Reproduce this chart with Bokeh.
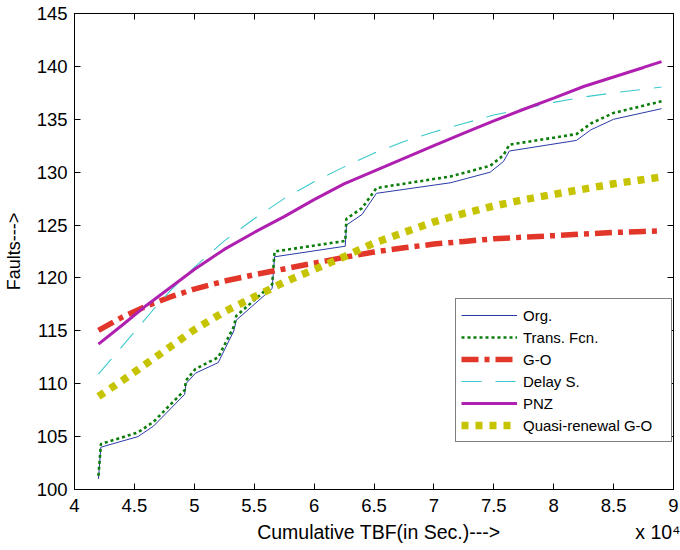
from bokeh.plotting import figure
from bokeh.models import LinearAxis, FixedTicker, Legend, LegendItem, Range1d
from bokeh.embed import file_html
from bokeh.resources import INLINE

# ---- data (x in seconds, y = cumulative faults) ----
org_x = [42000, 42200, 45300, 46600, 49200, 49300, 50100, 52000, 53300, 53500, 56500, 56700,
         62600, 62700, 64000, 65200, 71400, 74700, 75800, 76300, 81900, 83100, 85000, 89000]
org_y = [101, 104, 105, 106, 109, 110, 111, 112, 115, 116, 119, 122,
         123, 125, 126, 128, 129, 130, 131, 132, 133, 134, 135, 136]

trans_x = [42000, 42200, 45300, 46600, 49200, 49300, 50100, 52000, 53300, 53500, 56500, 56700,
           62600, 62700, 64000, 65200, 71400, 74700, 75800, 76300, 81900, 83100, 85000, 89000]
trans_y = [101.3, 104.3, 105.4, 106.4, 109.4, 110.3, 111.4, 112.5, 115.4, 116.4, 119.4, 122.5,
           123.5, 125.6, 126.6, 128.5, 129.6, 130.6, 131.6, 132.6, 133.6, 134.6, 135.6, 136.7]

model_x = [42000, 44000, 46000, 48000, 50000, 52500, 55000, 57500, 60000, 62500, 65000,
           67500, 70000, 72500, 75000, 77500, 80000, 82500, 85000, 87500, 89000]

go_y = [115.05, 116.3, 117.35, 118.2, 118.95, 119.7, 120.3, 120.85, 121.4, 121.95, 122.45,
        122.85, 123.2, 123.45, 123.7, 123.85, 124.0, 124.15, 124.3, 124.4, 124.45]

ds_x = [42000, 43500, 45000, 46500, 48000, 50000, 52500, 55000, 57500, 60000, 62500,
        65000, 67500, 70000, 72500, 75000, 77500, 80000, 82500, 85000, 88000, 89000]
ds_y = [110.9, 112.9, 114.9, 116.9, 118.8, 121.0, 123.5, 125.6, 127.5, 129.1, 130.5,
        131.8, 132.9, 133.8, 134.6, 135.4, 136.0, 136.6, 137.1, 137.5, 137.9, 138.05]

pnz_y = [113.75, 115.55, 117.4, 119.1, 120.8, 122.7, 124.3, 125.8, 127.4, 128.9, 130.1,
         131.3, 132.5, 133.7, 134.85, 135.95, 137.0, 138.1, 139.0, 139.9, 140.45]

qr_y = [108.8, 110.3, 111.9, 113.5, 115.1, 116.8, 118.2, 119.6, 120.8, 122.0, 123.3,
        124.3, 125.3, 126.1, 126.8, 127.4, 127.9, 128.4, 128.9, 129.3, 129.55]

x_ticks = [40000, 45000, 50000, 55000, 60000, 65000, 70000, 75000, 80000, 85000, 90000]
x_tick_labels = ["4", "4.5", "5", "5.5", "6", "6.5", "7", "7.5", "8", "8.5", "9"]
y_ticks = [100, 105, 110, 115, 120, 125, 130, 135, 140, 145]

x_title = "Cumulative TBF(in Sec.)--->"
x_multiplier = "x 10\u2074"
y_title = "Faults--->"

FONT = "Liberation Sans"

p = figure(width=680, height=550, output_backend="svg", toolbar_location=None,
           x_range=Range1d(40000, 90000), y_range=Range1d(100, 145),
           min_border_left=74, min_border_right=7, min_border_top=13, min_border_bottom=61)
p.background_fill_color = "white"
p.border_fill_color = "white"
p.outline_line_color = "black"
p.outline_line_width = 1
p.xgrid.visible = False
p.ygrid.visible = False

for ax in (p.xaxis[0], p.yaxis[0]):
    ax.major_tick_in = 6
    ax.major_tick_out = 0
    ax.minor_tick_line_color = None
    ax.axis_line_color = "black"
    ax.major_tick_line_color = "black"
    ax.major_label_text_font = FONT
    ax.major_label_text_font_size = "18.5px"
    ax.major_label_text_color = "black"
    ax.axis_label_text_font = FONT
    ax.axis_label_text_font_style = "normal"
    ax.axis_label_text_color = "black"

p.xaxis.ticker = FixedTicker(ticks=x_ticks)
p.xaxis.major_label_overrides = {t: l for t, l in zip(x_ticks, x_tick_labels)}
p.xaxis.major_label_standoff = 9

p.yaxis.ticker = FixedTicker(ticks=y_ticks)
p.yaxis.major_label_standoff = 7
p.yaxis.axis_label = y_title
p.yaxis.axis_label_text_font_size = "18px"
p.yaxis.axis_label_standoff = 10

# second "below" axis carrying the x title and the x 10^4 multiplier
title_pos = [65400, 88700]
xt = LinearAxis(ticker=FixedTicker(ticks=title_pos),
                major_label_overrides={title_pos[0]: x_title, title_pos[1]: x_multiplier},
                axis_line_color=None, major_tick_line_color=None, minor_tick_line_color=None,
                major_tick_in=0, major_tick_out=0, major_label_standoff=6,
                major_label_text_font=FONT, major_label_text_font_size="19.5px",
                major_label_text_color="black")
p.add_layout(xt, "below")

top = LinearAxis(ticker=FixedTicker(ticks=x_ticks), major_label_text_font_size="1px",
                 major_label_text_color=None,
                 major_tick_in=6, major_tick_out=0, minor_tick_line_color=None,
                 major_label_standoff=0)
right = LinearAxis(ticker=FixedTicker(ticks=y_ticks), major_label_text_font_size="1px",
                   major_label_text_color=None,
                   major_tick_in=6, major_tick_out=0, minor_tick_line_color=None,
                   major_label_standoff=0)
p.add_layout(top, "above")
p.add_layout(right, "right")

r_org = p.line(org_x, org_y, line_color="#2a3aa8", line_width=1)
r_trans = p.line(trans_x, trans_y, line_color="#0b7d0b", line_width=2.6,
                 line_dash="3 3")
r_go = p.line(model_x, go_y, line_color="#e2362a", line_width=5.5,
              line_dash="17 6 5 6")
r_ds = p.line(ds_x, ds_y, line_color="#3cc8cc", line_width=1.1,
              line_dash="20 14")
r_pnz = p.line(model_x, pnz_y, line_color="#b020b0", line_width=3)
r_qr = p.line(model_x, qr_y, line_color="#c6c400", line_width=7.5,
              line_dash="7 7")

legend = Legend(items=[
    LegendItem(label="Org.", renderers=[r_org]),
    LegendItem(label="Trans. Fcn.", renderers=[r_trans]),
    LegendItem(label="G-O", renderers=[r_go]),
    LegendItem(label="Delay S.", renderers=[r_ds]),
    LegendItem(label="PNZ", renderers=[r_pnz]),
    LegendItem(label="Quasi-renewal G-O", renderers=[r_qr]),
], location=(381, 47))
legend.label_text_font = FONT
legend.label_text_font_size = "15px"
legend.label_text_color = "black"
legend.glyph_width = 56
legend.glyph_height = 22
legend.label_height = 22
legend.label_width = 143
legend.label_standoff = 6
legend.spacing = 0
legend.padding = 5
legend.margin = 0
legend.border_line_color = "black"
legend.border_line_width = 1
legend.background_fill_color = "white"
legend.background_fill_alpha = 1
p.add_layout(legend, "center")

open("out.html", "w").write(file_html(p, INLINE))
